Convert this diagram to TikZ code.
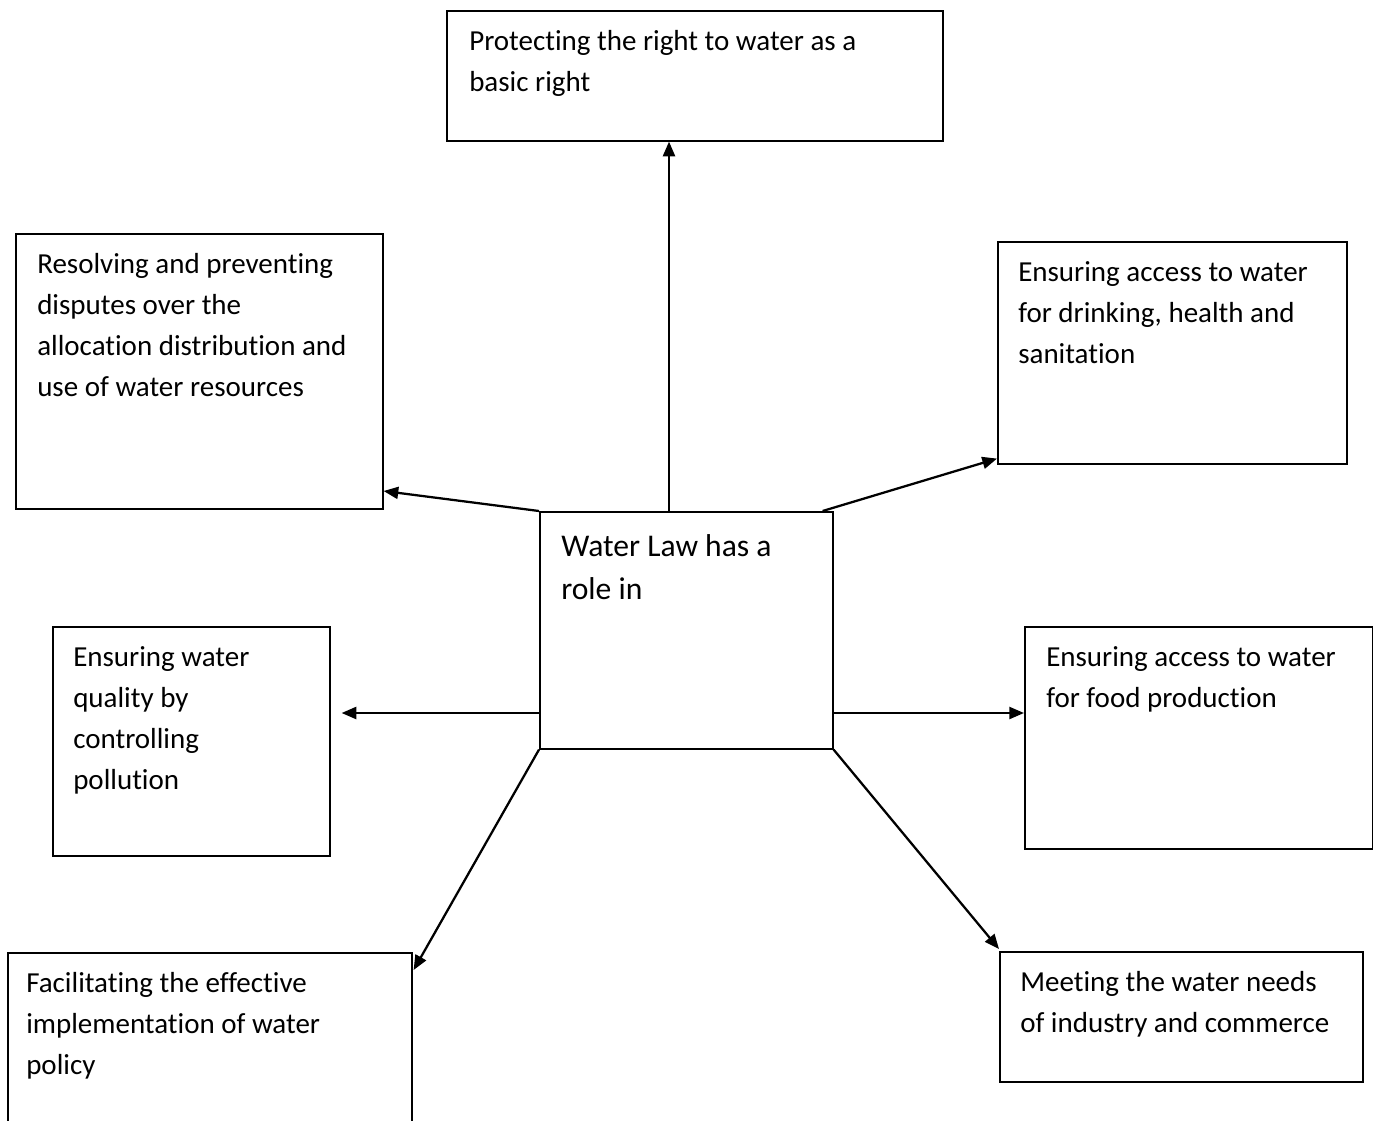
\documentclass[tikz,border=0pt]{standalone}
\usepackage{fontspec}
\setmainfont{Carlito}[Ligatures=NoCommon]
\usetikzlibrary{arrows.meta,calc}
\begin{document}
\begin{tikzpicture}[x=0.75pt,y=-0.75pt,
  box/.style={draw, line width=1.2pt, rectangle, inner sep=0pt, anchor=north west},
  txt/.style={inner sep=0pt, anchor=north west, align=left, font=\fontsize{21.75pt}{30.75pt}\selectfont},
  ctxt/.style={inner sep=0pt, anchor=north west, align=left, font=\fontsize{23.7pt}{32.25pt}\selectfont},
  arr/.style={-{Triangle[length=11pt,width=9pt]}, line width=1.7pt}]
\useasboundingbox (0,0) rectangle (1373,1120);
% boxes
\node[box, minimum width=372pt, minimum height=97.5pt] (t) at (446,10) {};
\node[box, minimum width=275.25pt, minimum height=206.25pt] (lt) at (15,233) {};
\node[box, minimum width=261.75pt, minimum height=166.5pt] (rt) at (997,241) {};
\node[box, minimum width=219.75pt, minimum height=177.75pt] (c) at (539,511) {};
\node[box, minimum width=207.75pt, minimum height=171.75pt] (lm) at (52,626) {};
\node[box, minimum width=261pt, minimum height=166.5pt] (rm) at (1024,626) {};
\node[box, minimum width=303pt, minimum height=150pt] (bl) at (7,952) {};
\node[box, minimum width=272.25pt, minimum height=97.5pt] (br) at (999,951) {};
% texts
\node[txt] (tt) at ($(t.north west)+(23,11.3)$) {\strut Protecting the right to water as a\\basic right};
\node[txt] (ltt) at ($(lt.north west)+(22,11.3)$) {\strut Resolving and preventing\\disputes over the\\allocation distribution and\\use of water resources};
\node[txt] (rtt) at ($(rt.north west)+(21,11.3)$) {\strut Ensuring access to water\\for drinking, health and\\sanitation};
\node[ctxt] (ct) at ($(c.north west)+(22,14.9)$) {\strut Water Law has a\\role in};
\node[txt] (lmt) at ($(lm.north west)+(21,11.3)$) {\strut Ensuring water\\quality by\\controlling\\pollution};
\node[txt] (rmt) at ($(rm.north west)+(22,11.3)$) {\strut Ensuring access to water\\for food production};
\node[txt] (blt) at ($(bl.north west)+(19,11.3)$) {\strut Facilitating the effective\\implementation of water\\policy};
\node[txt] (brt) at ($(br.north west)+(21,11.3)$) {\strut Meeting the water needs\\of industry and commerce};
% arrows
\coordinate (lmtip) at ($(lm.north east)+(11,87)$);
\draw[arr] ($(c.north west)+(130,0)$) -- ($(t.south west)+(223,0)$);
\draw[arr] (c.north west) -- ($(lt.north east)+(0,258)$);
\draw[arr] ($(c.north east)+(-11,0)$) -- ($(rt.south west)+(0,-6)$);
\draw[arr] ($(c.north west)+(0,202)$) -- (lmtip);
\draw[arr] ($(c.north east)+(0,202)$) -- ($(rm.north west)+(0,87)$);
\draw[arr] (c.south west) -- ($(bl.north east)+(1,18)$);
\draw[arr] (c.south east) -- ($(br.north west)+(0,-2)$);
\end{tikzpicture}
\end{document}
